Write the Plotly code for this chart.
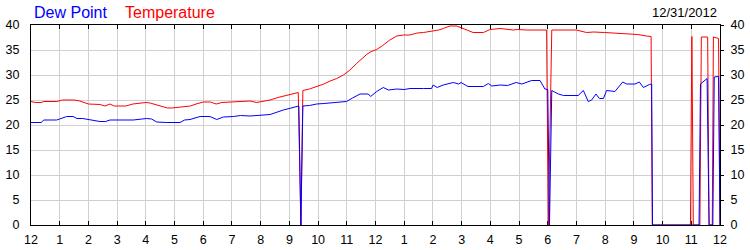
import plotly.graph_objects as go

# ---- data (hours since midnight) ----
temp_hours = [0.00, 0.15, 0.35, 0.45, 0.90, 1.10, 1.50, 1.70, 2.00, 2.40, 2.58, 2.75, 2.90, 3.30, 3.55,
              3.80, 4.00, 4.15, 4.40, 4.75, 4.90, 5.20, 5.55, 5.75, 6.00, 6.25, 6.45, 6.65, 7.05, 7.30,
              7.63, 7.86, 8.10, 8.33, 8.60, 8.79, 9.05, 9.31, 9.40, 9.47, 9.70, 9.95, 10.20, 10.42,
              10.65, 10.88, 11.00, 11.11, 11.34, 11.50, 11.69, 11.85, 12.04, 12.25, 12.50, 12.74,
              12.97, 13.20, 13.45, 13.67, 14.01, 14.20, 14.36, 14.59, 14.83, 15.06, 15.25, 15.40,
              15.76, 15.99, 16.34, 16.80, 16.95, 17.26, 17.96, 18.02, 18.14, 18.60, 19.00, 19.35,
              19.60, 19.97, 20.43, 20.81, 21.14, 21.44, 21.60, 21.64, 22.97, 23.02, 23.07, 23.30,
              23.35, 23.57, 23.62, 23.73, 23.77, 23.95, 24.00]
temp_values = [24.7, 24.5, 24.5, 24.7, 24.7, 25.0, 25.0, 24.8, 24.2, 24.1, 23.8, 24.2, 23.8, 23.8, 24.2,
               24.3, 24.5, 24.4, 24.0, 23.4, 23.4, 23.6, 23.8, 24.2, 24.6, 24.6, 24.2, 24.5, 24.6, 24.8,
               24.8, 24.5, 24.8, 25.0, 25.5, 25.8, 26.2, 26.5, 0.0, 26.9, 27.2, 27.7, 28.2, 28.8,
               29.3, 30.0, 30.5, 31.0, 32.3, 33.2, 34.1, 34.7, 35.1, 35.9, 37.0, 37.8,
               38.0, 38.0, 38.4, 38.5, 38.8, 39.0, 39.3, 39.8, 39.8, 39.3, 38.9, 38.5,
               38.5, 39.1, 39.3, 39.0, 39.1, 39.0, 39.0, 0.0, 39.0, 39.0, 39.0, 38.5,
               38.6, 38.5, 38.3, 38.1, 38.1, 37.8, 37.7, 0.0, 0.0, 37.7, 0.0, 0.0,
               37.6, 37.6, 0.0, 0.0, 37.6, 37.3, 0.0]

dew_hours = [0.00, 0.35, 0.45, 0.89, 1.00, 1.24, 1.47, 1.60, 1.80, 2.05, 2.40, 2.60, 2.75, 3.56, 3.80,
             4.03, 4.20, 4.38, 4.73, 5.19, 5.35, 5.54, 5.89, 6.23, 6.47, 6.70, 7.05, 7.30, 7.63, 8.00,
             8.33, 8.79, 9.05, 9.33, 9.40, 9.47, 9.70, 9.95, 10.20, 10.50, 10.99, 11.20, 11.46, 11.75,
             11.83, 12.04, 12.27, 12.45, 12.74, 13.00, 13.20, 13.67, 13.95, 14.01, 14.15, 14.36, 14.71,
             14.90, 14.98, 15.22, 15.76, 15.93, 16.05, 16.34, 16.60, 16.90, 17.10, 17.44, 17.73, 17.90,
             18.00, 18.06, 18.14, 18.37, 18.55, 19.06, 19.24, 19.41, 19.53, 19.68, 19.80, 19.94, 20.05,
             20.34, 20.61, 20.75, 21.04, 21.19, 21.33, 21.54, 21.62, 21.65, 23.27, 23.32, 23.45, 23.55,
             23.62, 23.75, 23.80, 23.95, 24.00]
dew_values = [20.5, 20.5, 21.0, 21.0, 21.2, 21.7, 21.7, 21.3, 21.3, 21.0, 20.7, 20.7, 21.0, 21.0, 21.2,
              21.3, 21.2, 20.6, 20.5, 20.5, 21.0, 21.1, 21.7, 21.7, 21.1, 21.6, 21.7, 21.9, 21.8, 21.9,
              22.1, 23.0, 23.4, 23.8, 0.0, 23.8, 23.9, 24.2, 24.3, 24.4, 24.7, 25.4, 26.2, 26.2,
              25.7, 26.7, 27.5, 27.0, 27.2, 27.1, 27.3, 27.3, 27.3, 28.0, 27.5, 28.0, 28.5,
              28.2, 28.5, 27.7, 27.7, 28.3, 27.8, 28.0, 27.9, 28.5, 28.2, 28.9, 28.9, 27.2,
              27.1, 0.0, 26.9, 26.2, 25.9, 25.9, 26.9, 24.7, 25.0, 26.2, 25.3, 25.3, 26.9,
              26.7, 28.6, 28.2, 28.2, 28.6, 27.5, 28.1, 28.2, 0.0, 0.0, 28.2, 28.8, 29.3,
              0.0, 0.0, 29.6, 29.7, 0.0]

x_tick_vals = list(range(0, 25))
x_tick_text = ["12", "1", "2", "3", "4", "5", "6", "7", "8", "9", "10", "11",
               "12", "1", "2", "3", "4", "5", "6", "7", "8", "9", "10", "11", "12"]
y_tick_vals = [0, 5, 10, 15, 20, 25, 30, 35, 40]
date_label = "12/31/2012"
series_names = ["Dew Point", "Temperature"]

FONT = "Liberation Sans, Arial, sans-serif"
GRID = "#d0d0d0"

fig = go.Figure()
fig.add_trace(go.Scatter(x=temp_hours, y=temp_values, mode="lines",
                         line=dict(color="#ff0000", width=1), name=series_names[1],
                         yaxis="y", hoverinfo="skip"))
fig.add_trace(go.Scatter(x=dew_hours, y=dew_values, mode="lines",
                         line=dict(color="#0000ff", width=1), name=series_names[0],
                         yaxis="y2", hoverinfo="skip"))

axis_font = dict(family=FONT, size=12.5, color="#000000")

fig.update_layout(
    width=750, height=250,
    margin=dict(l=31, r=30, t=25, b=25, pad=0, autoexpand=False),
    paper_bgcolor="white", plot_bgcolor="white",
    showlegend=False,
    xaxis=dict(range=[0, 24], tickmode="array", tickvals=x_tick_vals, ticktext=x_tick_text,
               showgrid=True, gridcolor=GRID, gridwidth=1, zeroline=False,
               showline=True, linecolor="black", linewidth=1, mirror="ticks",
               ticks="inside", ticklen=4, tickcolor="black", tickfont=axis_font,
               ticklabelstandoff=3, automargin=False,
               layer="below traces", fixedrange=True),
    yaxis=dict(range=[0, 40], tickmode="array", tickvals=y_tick_vals,
               showgrid=True, gridcolor=GRID, gridwidth=1, zeroline=False,
               showline=True, linecolor="black", linewidth=1, mirror=True,
               ticks="", tickfont=axis_font, ticklabelstandoff=8, automargin=False,
               layer="below traces", fixedrange=True),
    yaxis2=dict(range=[0, 40], tickmode="array", tickvals=y_tick_vals, overlaying="y", side="right",
                showgrid=False, zeroline=False, showline=True, linecolor="black", linewidth=1,
                ticks="outside", ticklen=3, tickcolor="black", tickfont=axis_font,
                ticklabelstandoff=4, automargin=False,
                layer="below traces", fixedrange=True),
    annotations=[
        dict(text=series_names[0], xref="paper", yref="paper", x=0.002, y=1.065,
             xanchor="left", yanchor="middle", showarrow=False,
             font=dict(family=FONT, size=16, color="#0000ff")),
        dict(text=series_names[1], xref="paper", yref="paper", x=0.133, y=1.065,
             xanchor="left", yanchor="middle", showarrow=False,
             font=dict(family=FONT, size=16, color="#ff0000")),
        dict(text=date_label, xref="paper", yref="paper", x=0.998, y=1.065,
             xanchor="right", yanchor="middle", showarrow=False,
             font=dict(family=FONT, size=13, color="#000000")),
    ],
)

fig.write_html("out.html")
